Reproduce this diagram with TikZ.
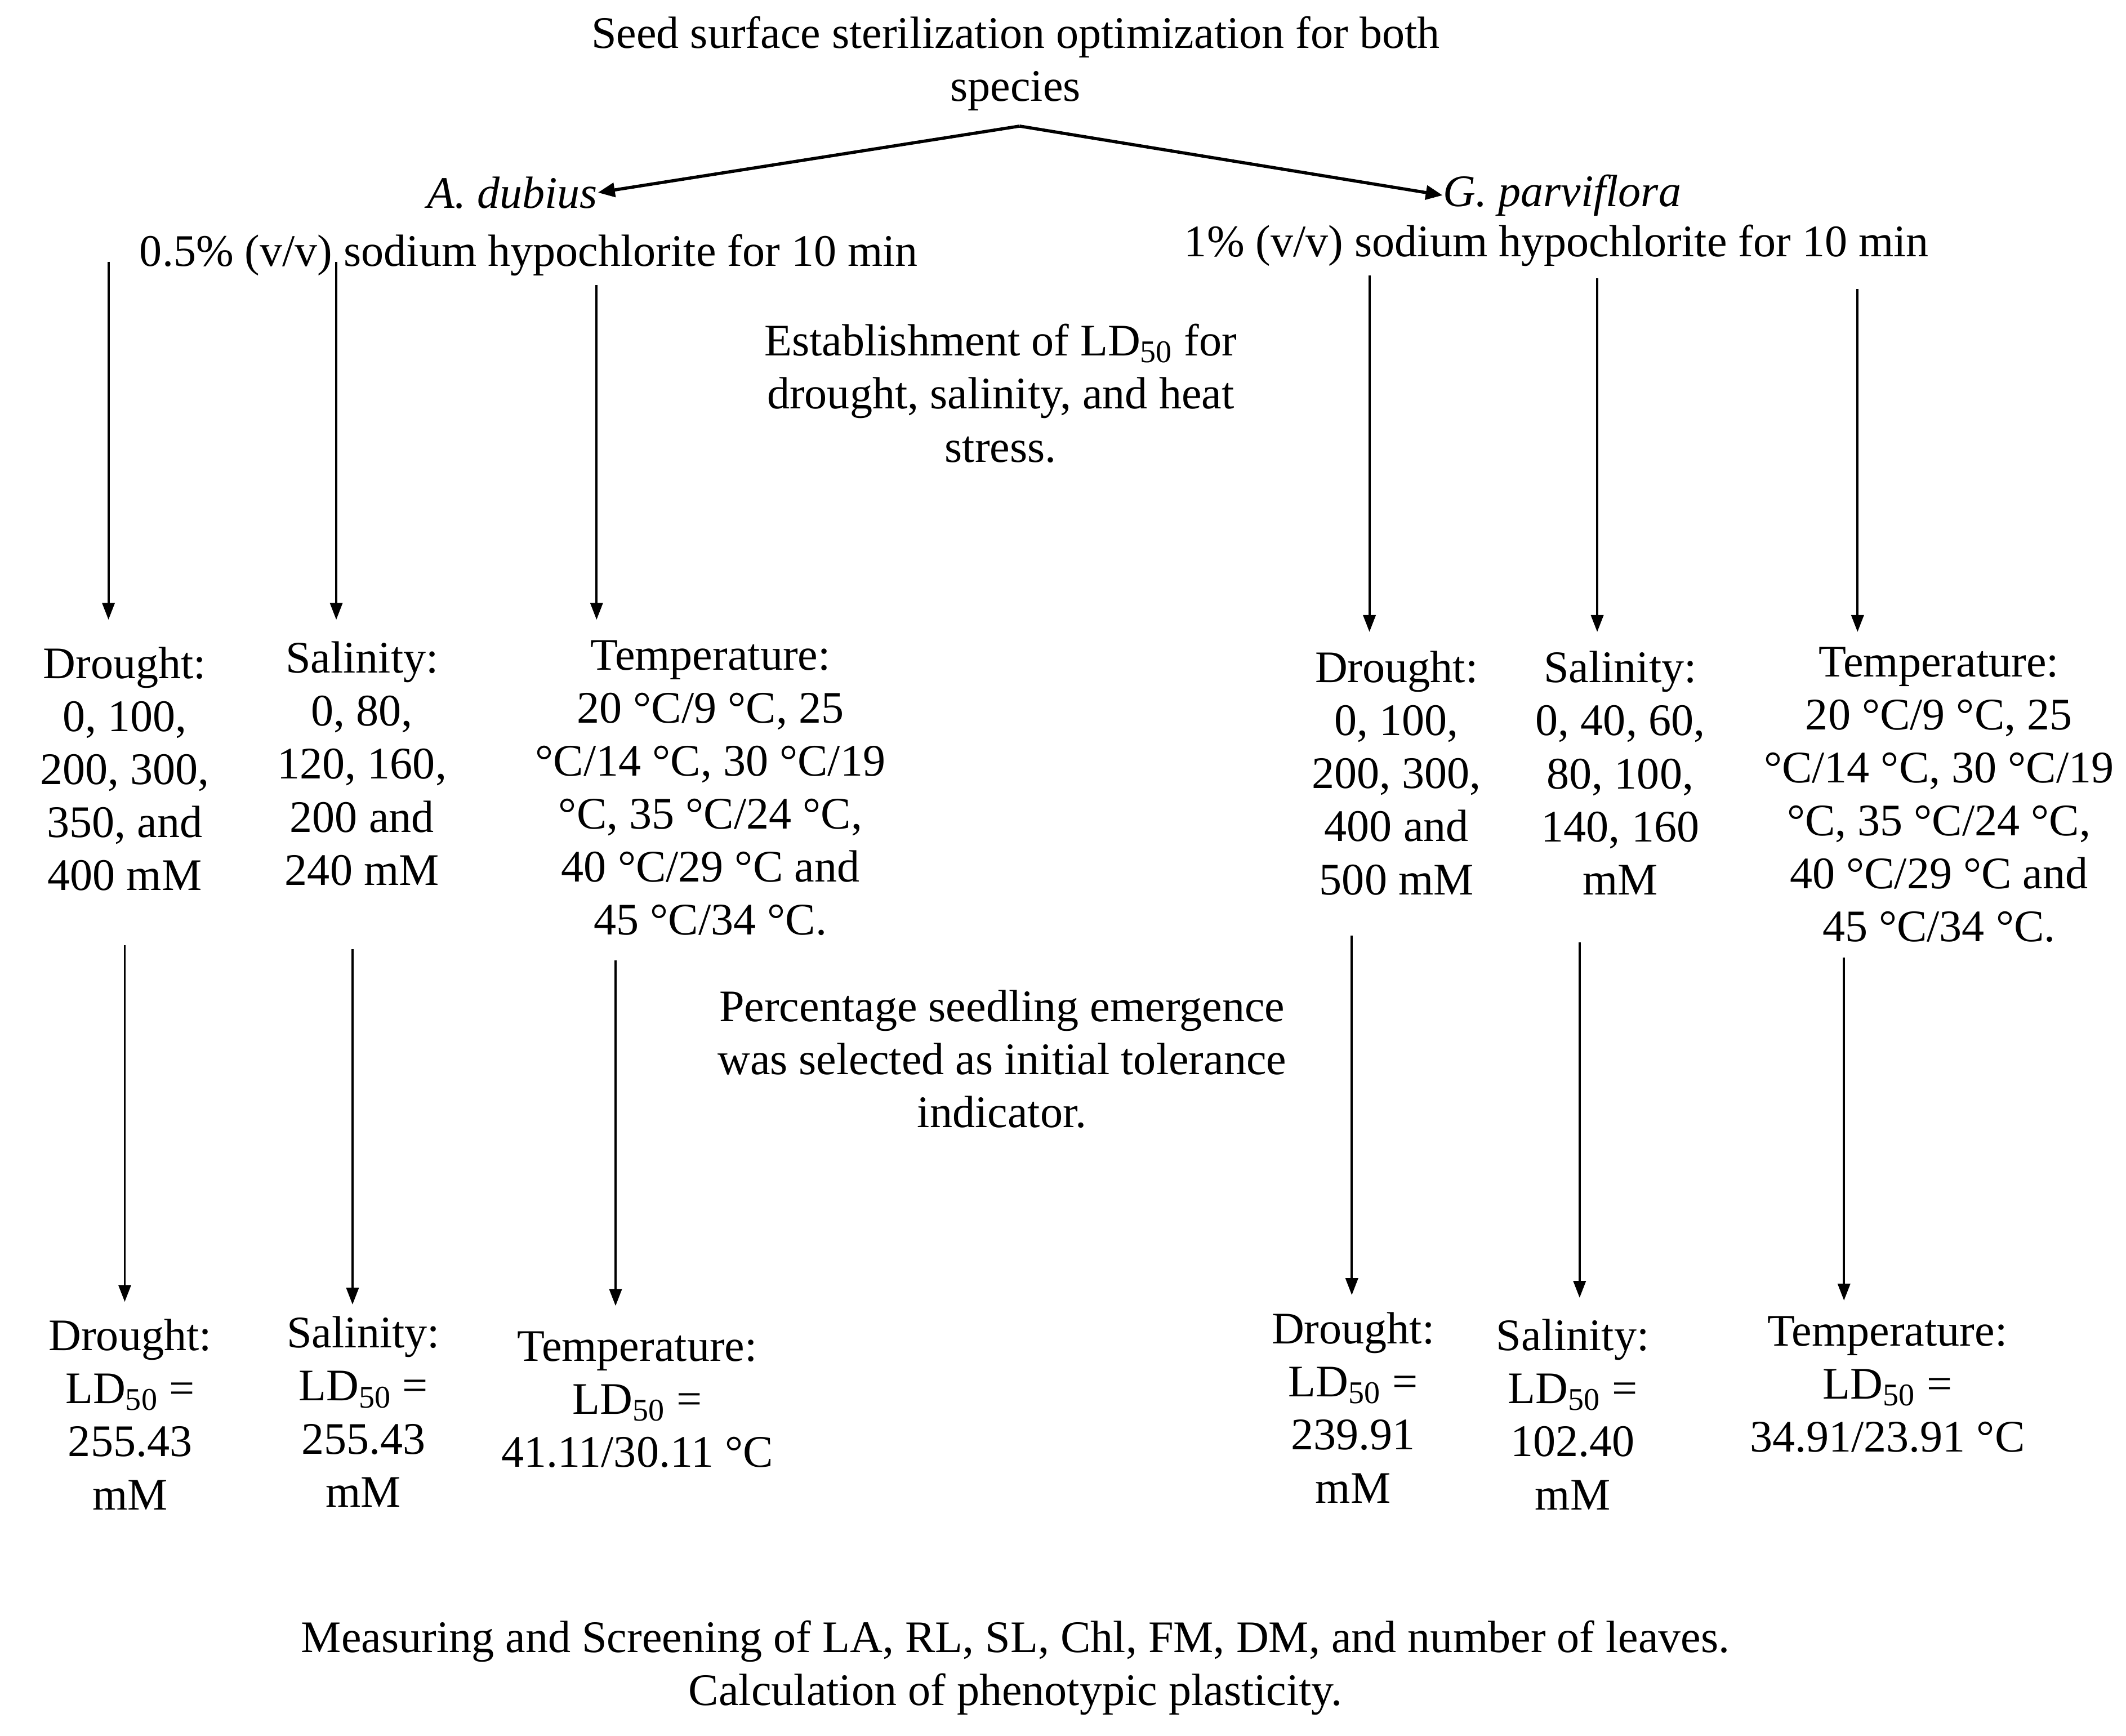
\documentclass[tikz,border=0pt]{standalone}
\usepackage{fontspec}
\setmainfont{Liberation Serif}
\usetikzlibrary{arrows.meta}
\begin{document}
\begin{tikzpicture}[x=0.024075cm,y=-0.024075cm,
  txt/.style={align=center, font=\fontsize{22.8}{26.8}\selectfont, inner sep=0pt},
  arr/.style={-{Stealth[length=0.3cm,width=0.22cm,inset=0pt]}, line width=1.1pt},
  darr/.style={-{Stealth[length=0.3cm,width=0.25cm,inset=0pt]}, line width=1.6pt}]
\useasboundingbox (0,0) rectangle (1568,1280);

% top
\node[txt] (title) at (749,47) {Seed surface sterilization optimization for both\\species};
\coordinate (split) at (752,93);
\node[txt, anchor=east] (adub) at (441,142) {\itshape A. dubius};
\node[txt, anchor=west] (gpar) at (1064,144) {\itshape G. parviflora};
\draw[darr] (split) -- (adub.east);
\draw[darr] (split) -- (gpar.west);

\node[txt] (nal) at (390,188) {0.5\% (v/v) sodium hypochlorite for 10 min};
\node[txt] (nar) at (1148,181) {1\% (v/v) sodium hypochlorite for 10 min};

\node[txt] (est) at (738,290) {Establishment of LD\textsubscript{50} for\\drought, salinity, and heat\\stress.};

% stage 1 lists
\node[txt] (dl) at (92,567) {Drought:\\0, 100,\\200, 300,\\350, and\\400 mM};
\node[txt] (sl) at (267,563) {Salinity:\\0, 80,\\120, 160,\\200 and\\240 mM};
\node[txt] (tl) at (524,581) {Temperature:\\20 °C/9 °C, 25\\°C/14 °C, 30 °C/19\\°C, 35 °C/24 °C,\\40 °C/29 °C and\\45 °C/34 °C.};
\node[txt] (dr) at (1030,570) {Drought:\\0, 100,\\200, 300,\\400 and\\500 mM};
\node[txt] (sr) at (1195,570) {Salinity:\\0, 40, 60,\\80, 100,\\140, 160\\mM};
\node[txt] (tr) at (1430,586) {Temperature:\\20 °C/9 °C, 25\\°C/14 °C, 30 °C/19\\°C, 35 °C/24 °C,\\40 °C/29 °C and\\45 °C/34 °C.};

\node[txt] (pse) at (739,781) {Percentage seedling emergence\\was selected as initial tolerance\\indicator.};

% stage 2 results
\node[txt] (dl2) at (96,1043) {Drought:\\LD\textsubscript{50} =\\255.43\\mM};
\node[txt] (sl2) at (268,1041) {Salinity:\\LD\textsubscript{50} =\\255.43\\mM};
\node[txt] (tl2) at (470,1032) {Temperature:\\LD\textsubscript{50} =\\41.11/30.11 °C};
\node[txt] (dr2) at (998,1038) {Drought:\\LD\textsubscript{50} =\\239.91\\mM};
\node[txt] (sr2) at (1160,1043) {Salinity:\\LD\textsubscript{50} =\\102.40\\mM};
\node[txt] (tr2) at (1392,1021) {Temperature:\\LD\textsubscript{50} =\\34.91/23.91 °C};

\node[txt] (meas) at (749,1230) {Measuring and Screening of LA, RL, SL, Chl, FM, DM, and number of leaves.\\Calculation of phenotypic plasticity.};

% arrows stage 1
\coordinate (a1s) at (80,193);   \coordinate (a1e) at (80,457);
\coordinate (a2s) at (248,193);  \coordinate (a2e) at (248,457);
\coordinate (a3s) at (440,210);  \coordinate (a3e) at (440,457);
\coordinate (a4s) at (1010,203); \coordinate (a4e) at (1010,466);
\coordinate (a5s) at (1178,205); \coordinate (a5e) at (1178,466);
\coordinate (a6s) at (1370,213); \coordinate (a6e) at (1370,466);
\foreach \i in {1,...,6} {\draw[arr] (a\i s) -- (a\i e);}

% arrows stage 2
\coordinate (b1s) at (92,697);   \coordinate (b1e) at (92,960);
\coordinate (b2s) at (260,700);  \coordinate (b2e) at (260,962);
\coordinate (b3s) at (454,708);  \coordinate (b3e) at (454,963);
\coordinate (b4s) at (997,690);  \coordinate (b4e) at (997,955);
\coordinate (b5s) at (1165,695); \coordinate (b5e) at (1165,957);
\coordinate (b6s) at (1360,706); \coordinate (b6e) at (1360,959);
\foreach \i in {1,...,6} {\draw[arr] (b\i s) -- (b\i e);}
\end{tikzpicture}
\end{document}
